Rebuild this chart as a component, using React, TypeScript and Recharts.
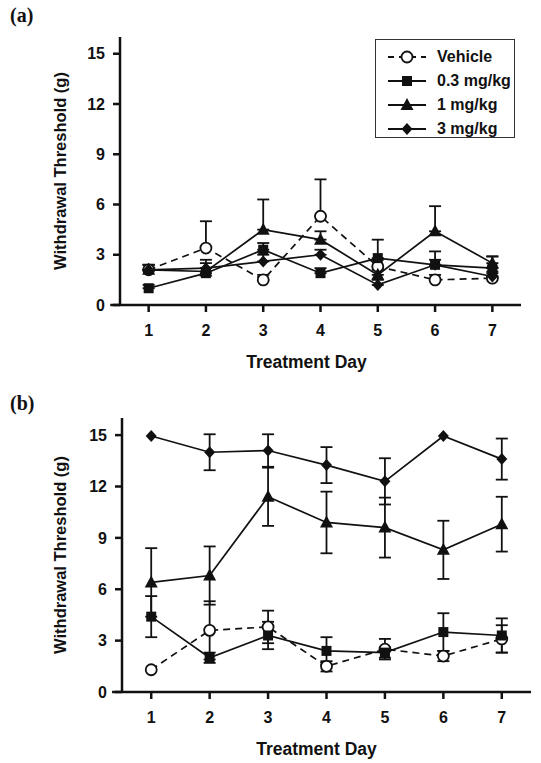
import React from 'react';
import { LineChart, Line, XAxis, YAxis, ErrorBar, ReferenceLine } from 'recharts';

const days = [1, 2, 3, 4, 5, 6, 7];
const xTicks = [1, 2, 3, 4, 5, 6, 7];
const yTicks = [0, 3, 6, 9, 12, 15];
const seriesNames = ['Vehicle', '0.3 mg/kg', '1 mg/kg', '3 mg/kg'];

// Panel (a): means and upward SEM
const aVehicle = [2.1, 3.4, 1.5, 5.3, 2.3, 1.5, 1.6];
const aVehicleErr = [0.3, 1.6, 0.3, 2.2, 0.4, 0.3, 0.3];
const aDose03 = [1.0, 1.9, 3.3, 1.9, 2.8, 2.4, 2.2];
const aDose03Err = [0.2, 0.3, 0.4, 0.3, 1.1, 0.8, 0.7];
const aDose1 = [2.1, 2.0, 4.5, 3.9, 1.8, 4.4, 2.5];
const aDose1Err = [0.3, 0.5, 1.8, 0.5, 0.3, 1.5, 0.4];
const aDose3 = [2.1, 2.2, 2.6, 3.0, 1.2, 2.4, 1.7];
const aDose3Err = [0.3, 0.5, 0.4, 0.3, 0.3, 0.3, 0.3];

// Panel (b): means and symmetric SEM
const bVehicle = [1.3, 3.6, 3.8, 1.5, 2.5, 2.1, 3.1];
const bVehicleErr = [null, 1.7, 0.95, 0.3, 0.6, 0.3, 0.8];
const bDose03 = [4.4, 2.0, 3.3, 2.4, 2.3, 3.5, 3.3];
const bDose03Err = [1.2, 0.3, 0.8, 0.8, 0.3, 1.1, 1.0];
const bDose1 = [6.4, 6.8, 11.4, 9.9, 9.6, 8.3, 9.8];
const bDose1Err = [2.0, 1.7, 1.7, 1.8, 1.75, 1.7, 1.6];
const bDose3 = [14.95, 14.0, 14.1, 13.25, 12.3, 14.95, 13.6];
const bDose3Err = [null, 1.05, 0.95, 1.05, 1.35, null, 1.2];

const keys = ['veh', 'd03', 'd1', 'd3'];

function buildData(vals: number[][], errs: (number | null)[][], upOnly: boolean) {
  return days.map((day, i) => {
    const row: any = { day };
    keys.forEach((k, s) => {
      row[k] = vals[s][i];
      const e = errs[s][i];
      row[k + 'Err'] = e == null ? null : upOnly ? [0, e] : e;
    });
    return row;
  });
}

const dataA = buildData([aVehicle, aDose03, aDose1, aDose3], [aVehicleErr, aDose03Err, aDose1Err, aDose3Err], true);
const dataB = buildData([bVehicle, bDose03, bDose1, bDose3], [bVehicleErr, bDose03Err, bDose1Err, bDose3Err], false);

const INK = '#111';
const SANS = '"Liberation Sans", Arial, sans-serif';

const CircleDot = (p: any) =>
  p.cx == null ? null : (
    <circle key={`c-${p.index}`} cx={p.cx} cy={p.cy} r={5.5} fill="#fff" stroke={INK} strokeWidth={1.8} />
  );
const SquareDot = (p: any) =>
  p.cx == null ? null : (
    <rect key={`s-${p.index}`} x={p.cx - 5} y={p.cy - 5} width={10} height={10} fill={INK} />
  );
const TriangleDot = (p: any) =>
  p.cx == null ? null : (
    <polygon
      key={`t-${p.index}`}
      points={`${p.cx},${p.cy - 7} ${p.cx - 6.5},${p.cy + 5} ${p.cx + 6.5},${p.cy + 5}`}
      fill={INK}
    />
  );
const DiamondDot = (p: any) =>
  p.cx == null ? null : (
    <polygon
      key={`d-${p.index}`}
      points={`${p.cx},${p.cy - 6} ${p.cx + 5.5},${p.cy} ${p.cx},${p.cy + 6} ${p.cx - 5.5},${p.cy}`}
      fill={INK}
    />
  );

const dots = [CircleDot, SquareDot, TriangleDot, DiamondDot];

const axisStyle = { fontFamily: SANS, fontSize: 16, fontWeight: 700, fill: INK };

function Panel({ data, height, marginRight, marginBottom, yWidth, xLabelDx }: any) {
  return (
    <LineChart
      width={541}
      height={height}
      data={data}
      margin={{ top: 37, right: marginRight, left: 0, bottom: marginBottom }}
    >
      <XAxis
        dataKey="day"
        type="number"
        domain={[0.5, 7.5]}
        ticks={xTicks}
        height={70}
        axisLine={{ stroke: INK, strokeWidth: 2.5 }}
        tickLine={{ stroke: INK, strokeWidth: 2.5 }}
        tickSize={7}
        tickMargin={13}
        tick={axisStyle}
        label={{
          value: 'Treatment Day',
          position: 'insideBottom',
          offset: 7,
          dx: xLabelDx,
          style: { fontFamily: SANS, fontSize: 17.5, fontWeight: 700, fill: INK },
        }}
      />
      <YAxis
        type="number"
        domain={[0, 16]}
        ticks={yTicks}
        width={yWidth}
        axisLine={{ stroke: INK, strokeWidth: 2.5 }}
        tickLine={{ stroke: INK, strokeWidth: 2.5 }}
        tickSize={7}
        tickMargin={8}
        tick={axisStyle}
        label={{
          value: 'Withdrawal Threshold (g)',
          angle: -90,
          position: 'insideLeft',
          offset: 60,
          style: { textAnchor: 'middle', fontFamily: SANS, fontSize: 16.5, fontWeight: 700, fill: INK },
        }}
      />
      <ReferenceLine
        segment={[
          { x: 0.33, y: 0 },
          { x: 0.5, y: 0 },
        ]}
        ifOverflow="visible"
        stroke={INK}
        strokeWidth={2.5}
      />
      {keys.map((k, s) => (
        <Line
          key={k}
          dataKey={k}
          name={seriesNames[s]}
          type="linear"
          stroke={INK}
          strokeWidth={1.7}
          strokeDasharray={s === 0 ? '7 5' : undefined}
          dot={dots[s]}
          activeDot={false}
          isAnimationActive={false}
        >
          <ErrorBar dataKey={k + 'Err'} width={6} stroke={INK} strokeWidth={1.8} direction="y" />
        </Line>
      ))}
    </LineChart>
  );
}

function LegendIcon({ s }: { s: number }) {
  const cx = 20;
  const cy = 10;
  return (
    <svg width={40} height={20} style={{ display: 'block' }}>
      <line x1={1} y1={cy} x2={39} y2={cy} stroke={INK} strokeWidth={1.8} strokeDasharray={s === 0 ? '6 5' : undefined} />
      {s === 0 && <circle cx={cx} cy={cy} r={5.5} fill="#fff" stroke={INK} strokeWidth={1.8} />}
      {s === 1 && <rect x={cx - 5} y={cy - 5} width={10} height={10} fill={INK} />}
      {s === 2 && <polygon points={`${cx},${cy - 7} ${cx - 6.5},${cy + 5} ${cx + 6.5},${cy + 5}`} fill={INK} />}
      {s === 3 && <polygon points={`${cx},${cy - 6} ${cx + 5.5},${cy} ${cx},${cy + 6} ${cx - 5.5},${cy}`} fill={INK} />}
    </svg>
  );
}

export default function App() {
  return (
    <div style={{ position: 'absolute', left: 0, top: 0, width: 541, height: 763, background: '#fff', overflow: 'hidden' }}>
      <div style={{ position: 'absolute', left: 0, top: 0 }}>
        <Panel data={dataA} height={381} marginRight={20} marginBottom={6} yWidth={120} xLabelDx={-14} />
      </div>
      <div style={{ position: 'absolute', left: 0, top: 381 }}>
        <Panel data={dataB} height={382} marginRight={10} marginBottom={1} yWidth={122} xLabelDx={-10} />
      </div>
      <div style={{ position: 'absolute', left: 10, top: 4, fontFamily: '"Liberation Serif", "Times New Roman", serif', fontWeight: 700, fontSize: 20, color: INK }}>
        (a)
      </div>
      <div style={{ position: 'absolute', left: 10, top: 392, fontFamily: '"Liberation Serif", "Times New Roman", serif', fontWeight: 700, fontSize: 20, color: INK }}>
        (b)
      </div>
      <div
        style={{
          position: 'absolute',
          left: 375,
          top: 39,
          width: 140,
          height: 99,
          boxSizing: 'border-box',
          border: '1px solid #333',
          background: '#fff',
          paddingTop: 5,
          paddingLeft: 11,
        }}
      >
        {seriesNames.map((n, s) => (
          <div key={n} style={{ display: 'flex', alignItems: 'center', height: 24 }}>
            <LegendIcon s={s} />
            <span style={{ marginLeft: 10, fontFamily: SANS, fontSize: 16, fontWeight: 700, color: INK, whiteSpace: 'nowrap' }}>{n}</span>
          </div>
        ))}
      </div>
    </div>
  );
}
